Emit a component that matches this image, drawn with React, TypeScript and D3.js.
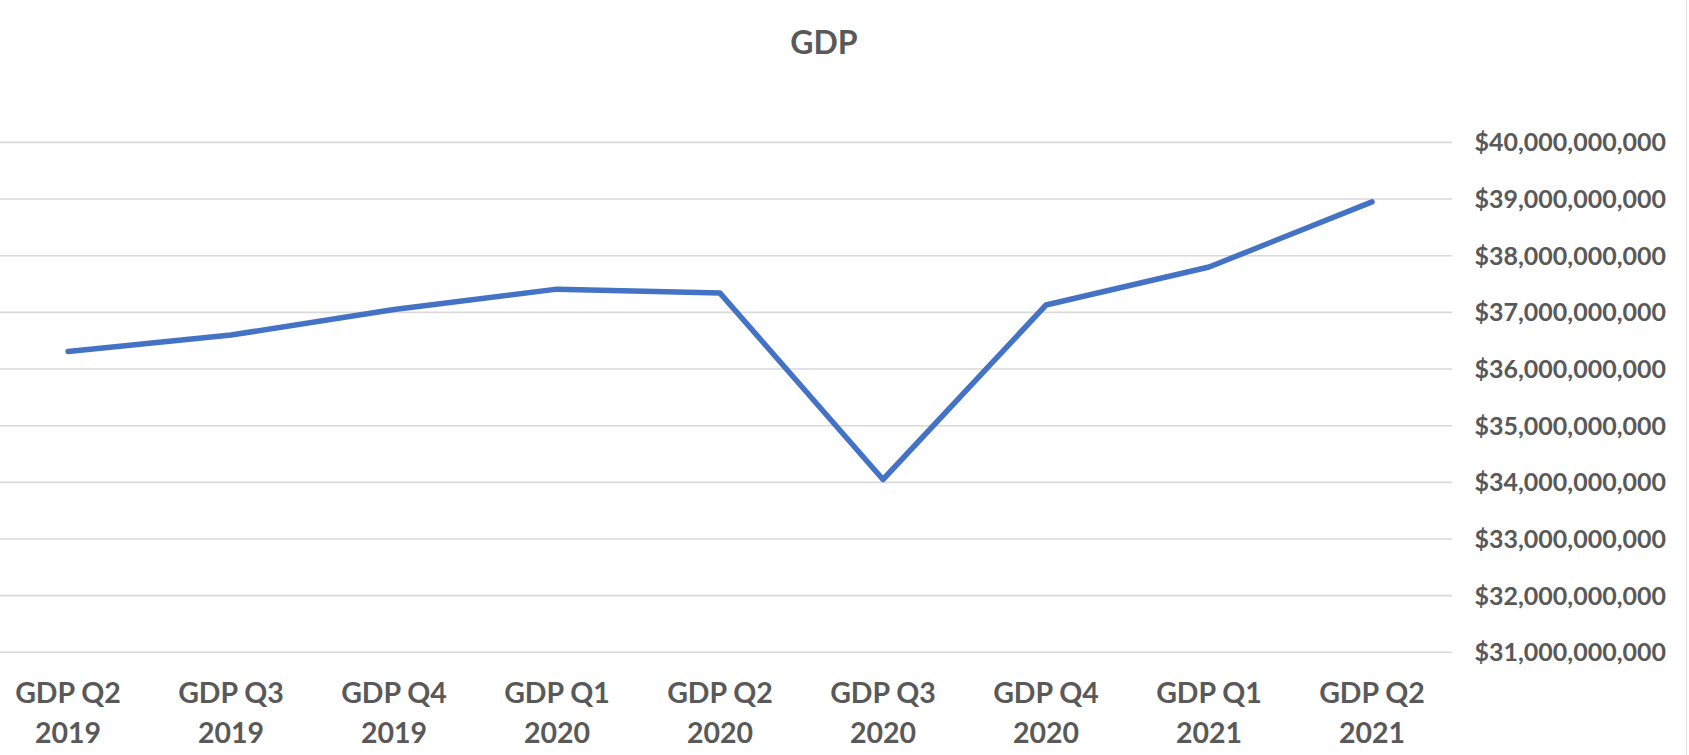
import React from "react";
import * as d3 from "d3";

const categories: string[][] = [
  ["GDP Q2", "2019"],
  ["GDP Q3", "2019"],
  ["GDP Q4", "2019"],
  ["GDP Q1", "2020"],
  ["GDP Q2", "2020"],
  ["GDP Q3", "2020"],
  ["GDP Q4", "2020"],
  ["GDP Q1", "2021"],
  ["GDP Q2", "2021"],
];
const gdpValues: number[] = [
  36.31e9, 36.6e9, 37.05e9, 37.41e9, 37.34e9, 34.05e9, 37.13e9, 37.8e9, 38.95e9,
];
const yTicks: number[] = [31e9, 32e9, 33e9, 34e9, 35e9, 36e9, 37e9, 38e9, 39e9, 40e9];
const title = "GDP";

const W = 1689;
const H = 755;
const FONT = "Lato, 'Open Sans', sans-serif";
const TEXT = "#595959";

export default function App() {
  const keys = categories.map((c) => c.join(" "));
  const x = d3.scaleBand<string>().domain(keys).range([-13.5, 1453.5]).padding(0);
  const cx = (k: string) => (x(k) as number) + x.bandwidth() / 2;
  const y = d3.scaleLinear().domain([31e9, 40e9]).range([652.3, 142.4]);
  const fmt = (v: number) => "$" + d3.format(",")(v);

  const line = d3
    .line<number>()
    .x((_, i) => cx(keys[i]))
    .y((d) => y(d));

  return (
    <svg
      width={W}
      height={H}
      style={{ position: "absolute", left: 0, top: 0, background: "#fff" }}
      fontFamily={FONT}
    >
      <rect x={0} y={0} width={W} height={H} fill="#fff" />
      <line x1={1686.5} x2={1686.5} y1={0} y2={H} stroke="#e3e3e3" strokeWidth={1} />
      <text
        x={824}
        y={53.5}
        textAnchor="middle"
        fontSize={32}
        fontWeight={700}
        fill={TEXT}
      >
        {title}
      </text>
      <g>
        {yTicks.map((t) => (
          <line
            key={t}
            x1={-13.5}
            x2={1452}
            y1={y(t)}
            y2={y(t)}
            stroke="#d9d9d9"
            strokeWidth={1.6}
          />
        ))}
      </g>
      <g>
        {yTicks.map((t) => (
          <text
            key={t}
            x={1666}
            y={y(t)}
            dy="0.36em"
            textAnchor="end"
            fontSize={25}
            fontWeight={700}
            fill={TEXT}
          >
            {fmt(t)}
          </text>
        ))}
      </g>
      <path
        d={line(gdpValues) || ""}
        fill="none"
        stroke="#4472C4"
        strokeWidth={5.5}
        strokeLinecap="round"
        strokeLinejoin="round"
      />
      <g>
        {categories.map((c, i) => (
          <text
            key={keys[i]}
            x={cx(keys[i])}
            y={703}
            textAnchor="middle"
            fontSize={28.5}
            fontWeight={700}
            fill={TEXT}
          >
            <tspan x={cx(keys[i])} y={703}>
              {c[0]}
            </tspan>
            <tspan x={cx(keys[i])} y={743}>
              {c[1]}
            </tspan>
          </text>
        ))}
      </g>
    </svg>
  );
}
